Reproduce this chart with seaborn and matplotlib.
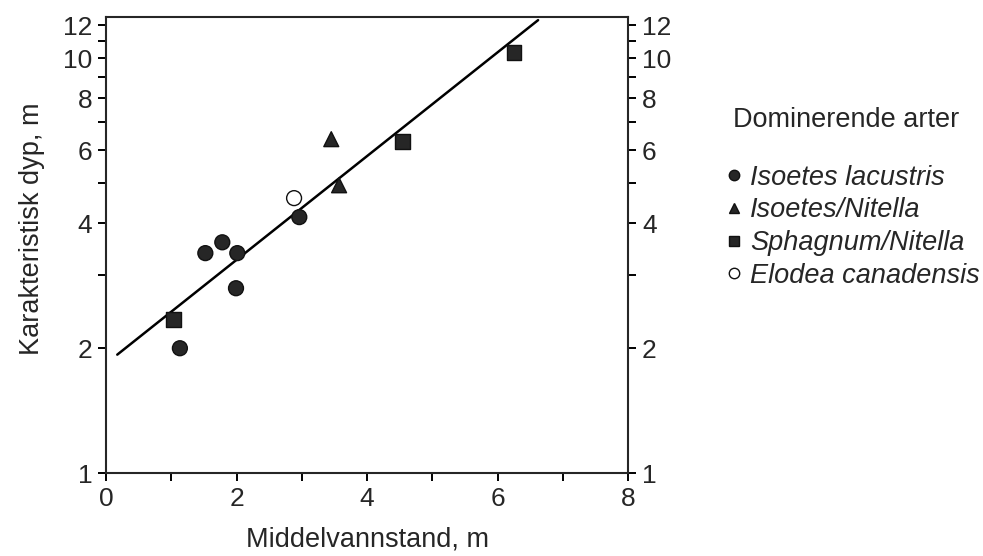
import matplotlib
matplotlib.use("Agg")
import pandas as pd
import matplotlib.pyplot as plt
from matplotlib.ticker import FixedLocator, FixedFormatter, NullFormatter
import seaborn as sns

# --- Data ---
species_order = ["Isoetes lacustris", "Isoetes/Nitella", "Sphagnum/Nitella", "Elodea canadensis"]
species = (["Isoetes lacustris"] * 6 + ["Isoetes/Nitella"] * 2
           + ["Sphagnum/Nitella"] * 3 + ["Elodea canadensis"])
mean_level = [1.13, 1.52, 1.78, 2.01, 1.99, 2.96,
              3.45, 3.57,
              1.03, 4.54, 6.25,
              2.88]
char_depth = [2.0, 3.39, 3.60, 3.39, 2.79, 4.14,
              6.38, 4.94,
              2.34, 6.31, 10.3,
              4.6]

# regression line end points
fit_x = [0.17, 6.62]
fit_y = [1.93, 12.35]

x_major = [0, 2, 4, 6, 8]
x_minor = [1, 3, 5, 7]
y_major = [1, 2, 4, 6, 8, 10, 12]
y_minor = [3, 5, 7, 9, 11]

# --- Style ---
sns.set_style("ticks")
plt.rcParams["font.family"] = ["Liberation Sans", "DejaVu Sans"]
plt.rcParams["axes.linewidth"] = 1.5

dark = "#262626"
palette = {"Isoetes lacustris": dark, "Isoetes/Nitella": dark,
           "Sphagnum/Nitella": dark, "Elodea canadensis": "white"}
markers = {"Isoetes lacustris": "o", "Isoetes/Nitella": "^",
           "Sphagnum/Nitella": "s", "Elodea canadensis": "o"}

df = pd.DataFrame({"art": species, "x": mean_level, "y": char_depth})

fig = plt.figure(figsize=(9.83, 5.56), dpi=100)
ax = fig.add_axes([0.108, 0.149, 0.531, 0.820])

sns.lineplot(x=fit_x, y=fit_y, color="black", lw=1.8, ax=ax)
sns.scatterplot(data=df, x="x", y="y", hue="art", style="art",
                hue_order=species_order, style_order=species_order,
                palette=palette, markers=markers, s=115,
                edgecolor="#111111", linewidth=1.0, ax=ax, zorder=3)

ax.set_yscale("log")
ax.set_xlim(0, 8)
ax.set_ylim(1, 12.55)

ax.xaxis.set_major_locator(FixedLocator(x_major))
ax.xaxis.set_minor_locator(FixedLocator(x_minor))
ax.yaxis.set_major_locator(FixedLocator(y_major))
ax.yaxis.set_major_formatter(FixedFormatter([str(v) for v in y_major]))
ax.yaxis.set_minor_locator(FixedLocator(y_minor))
ax.yaxis.set_minor_formatter(NullFormatter())

ax.tick_params(which="both", direction="out", length=6, width=1.4,
               color="black", top=False, right=True, labelright=True,
               labelsize=19, pad=4)

ax.set_xlabel("Middelvannstand, m", fontsize=19.5, labelpad=11)
ax.set_ylabel("Karakteristisk dyp, m", fontsize=19.5, labelpad=13)
ax.yaxis.label.set_y(0.535)

# --- Legend ---
leg = ax.get_legend()
handles = leg.legend_handles
labels = [t.get_text() for t in leg.get_texts()]
for h, lab in zip(handles, labels):
    if hasattr(h, "set_markersize"):
        h.set_markersize(7.5)
        h.set_markeredgecolor("#111111")
        h.set_markerfacecolor(palette[lab])
ax.legend(handles, labels, loc="upper left",
          bbox_to_anchor=(0.7396, 0.7041), bbox_transform=fig.transFigure,
          frameon=False, borderpad=0, borderaxespad=0,
          handlelength=0.55, handletextpad=0.3, labelspacing=0.25,
          prop={"style": "italic", "size": 19.5})
fig.text(0.7457, 0.784, "Dominerende arter", fontsize=19.5, ha="left", va="center")

fig.savefig("out.png", dpi=100)
